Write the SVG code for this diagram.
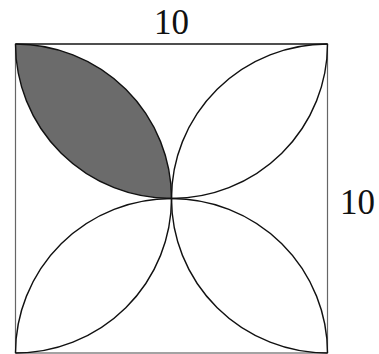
<svg xmlns="http://www.w3.org/2000/svg" width="379" height="354" viewBox="0 0 379 354">
<style>
.sq{fill:none;stroke:#666;stroke-width:1.2}
.top{stroke:#333;stroke-width:1.6}
.arc{fill:none;stroke:#111;stroke-width:1.4}
.shade{fill:#6b6b6b;stroke:none}
.lbl{font-family:"Liberation Serif","DejaVu Serif",serif;font-size:35px;fill:#111}
</style>
<rect width="379" height="354" fill="#fff"/>
<g id="shaded-lens">
<path class="shade" d="M15.5,44 A156,154.5 0 0 0 171.5,198.5 A156,154.5 0 0 0 15.5,44 Z"/>
</g>
<g id="square">
<rect class="sq" x="15.5" y="44" width="312" height="309"/>
<line class="top" x1="15.5" y1="44" x2="327.5" y2="44"/>
</g>
<g id="connectors">
<path class="arc" d="M15.5,44 A156,154.5 0 0 0 327.5,44"/>
<path class="arc" d="M15.5,353 A156,154.5 0 0 1 327.5,353"/>
<path class="arc" d="M15.5,44 A156,154.5 0 0 1 15.5,353"/>
<path class="arc" d="M327.5,44 A156,154.5 0 0 0 327.5,353"/>
</g>
<g id="label-top">
<text class="lbl" x="171.5" y="34" text-anchor="middle">10</text>
</g>
<g id="label-right">
<text class="lbl" x="340" y="214">10</text>
</g>
</svg>
